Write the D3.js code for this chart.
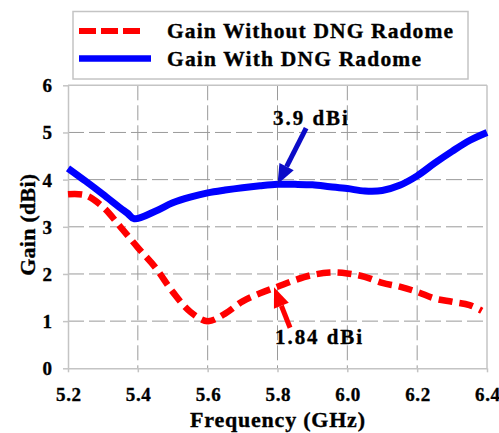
<!DOCTYPE html>
<html>
<head>
<meta charset="utf-8">
<script src="https://cdn.jsdelivr.net/npm/d3@7/dist/d3.min.js"></script>
<style>
  html, body { margin: 0; padding: 0; background: #fff; }
  svg { display: block; }
  text { font-family: "Liberation Serif", "Times New Roman", serif; font-weight: bold; fill: #000; stroke: #000; stroke-width: 0.35px; }
</style>
</head>
<body>
<svg id="chart" width="499" height="433"></svg>
<script>
// ---- data ----
const freqWith = [5.2, 5.25, 5.3, 5.35, 5.37, 5.39, 5.45, 5.5, 5.55, 5.6, 5.65, 5.7, 5.75, 5.8, 5.85, 5.9, 5.95, 6.0, 6.05, 6.1, 6.15, 6.2, 6.25, 6.3, 6.35, 6.4];
const gainWith = [4.24, 3.97, 3.69, 3.40, 3.29, 3.17, 3.33, 3.51, 3.63, 3.72, 3.78, 3.83, 3.87, 3.9, 3.9, 3.89, 3.85, 3.81, 3.76, 3.77, 3.88, 4.08, 4.35, 4.6, 4.83, 5.0];
const freqWithout = [5.2, 5.25, 5.3, 5.35, 5.4, 5.45, 5.5, 5.55, 5.6, 5.65, 5.7, 5.75, 5.8, 5.85, 5.9, 5.95, 6.0, 6.05, 6.1, 6.15, 6.2, 6.25, 6.3, 6.35, 6.385];
const gainWithout = [3.69, 3.67, 3.42, 3.0, 2.56, 2.14, 1.62, 1.2, 1.0, 1.16, 1.42, 1.59, 1.73, 1.87, 1.98, 2.03, 2.01, 1.94, 1.81, 1.73, 1.62, 1.48, 1.41, 1.34, 1.22];
const xTicks = [5.2, 5.4, 5.6, 5.8, 6.0, 6.2, 6.4];
const xTickLabels = ["5.2", "5.4", "5.6", "5.8", "6.0", "6.2", "6.4"];
const yTicks = [0, 1, 2, 3, 4, 5, 6];
const seriesNames = ["Gain Without DNG Radome", "Gain With DNG Radome"];
// annotations: label, text position (freq, gain), arrow tail, arrow tip
const annLabels = ["3.9 dBi", "1.84 dBi"];
const annTextPos = [[5.787, 5.15], [5.793, 0.51]];
const annTail = [[5.882, 5.09], [5.836, 0.86]];
const annTip = [[5.8, 3.9], [5.79, 1.72]];

// ---- layout ----
const svg = d3.select("#chart");
const L = 68, R = 487, T = 85.3, B = 368.3;
const x = d3.scaleLinear().domain([5.2, 6.4]).range([L, R]);
const y = d3.scaleLinear().domain([0, 6]).range([B, T]);

const frameColor = "#c4c4c4";
const gridColor = "#9a9a9a";

// gridlines
svg.append("g").selectAll("line").data(yTicks.filter(v => v > 0 && v < 6)).join("line")
  .attr("x1", L).attr("x2", R).attr("y1", d => y(d)).attr("y2", d => y(d))
  .attr("stroke", gridColor).attr("stroke-width", 1).attr("stroke-dasharray", "16,5");
svg.append("g").selectAll("line").data(xTicks.filter(v => v > 5.2 && v < 6.4)).join("line")
  .attr("x1", d => x(d)).attr("x2", d => x(d)).attr("y1", T).attr("y2", B)
  .attr("stroke", gridColor).attr("stroke-width", 1).attr("stroke-dasharray", "15,5");

// axes
const yAxis = d3.axisLeft(y).tickValues(yTicks).tickSize(5).tickSizeOuter(0).tickFormat(d3.format("d")).tickPadding(11);
const gy = svg.append("g").attr("transform", `translate(${L},0)`).call(yAxis);
gy.select(".domain").attr("stroke", frameColor).attr("stroke-width", 1.5);
gy.selectAll(".tick line").attr("stroke", frameColor).attr("stroke-width", 1.5);
gy.selectAll(".tick text").attr("font-size", 19).attr("font-family", null).attr("fill", "#000").attr("dy", "0.34em");

const xAxis = d3.axisBottom(x).tickValues(xTicks).tickSize(4).tickSizeOuter(0).tickFormat((d, i) => xTickLabels[i]).tickPadding(16);
const gx = svg.append("g").attr("transform", `translate(0,${B})`).call(xAxis);
gx.select(".domain").attr("stroke", frameColor).attr("stroke-width", 1.5);
gx.selectAll(".tick line").attr("stroke", frameColor).attr("stroke-width", 1.5);
gx.selectAll(".tick text").attr("font-size", 19).attr("font-family", null).attr("fill", "#000")
  .attr("dy", "0.68em").attr("textLength", 25).attr("lengthAdjust", "spacing");

// top & right frame
svg.append("line").attr("x1", L).attr("x2", R).attr("y1", T).attr("y2", T).attr("stroke", frameColor).attr("stroke-width", 1.5);
svg.append("line").attr("x1", R).attr("x2", R).attr("y1", T).attr("y2", B).attr("stroke", frameColor).attr("stroke-width", 1.5);

// series
const line = d3.line().x(d => x(d[0])).y(d => y(d[1])).curve(d3.curveCatmullRom.alpha(0.5));
svg.append("path").datum(freqWithout.map((f, i) => [f, gainWithout[i]]))
  .attr("d", line).attr("fill", "none").attr("stroke", "#ff0000").attr("stroke-width", 6.5)
  .attr("stroke-dasharray", "14,7");
svg.append("path").datum(freqWith.map((f, i) => [f, gainWith[i]]))
  .attr("d", line).attr("fill", "none").attr("stroke", "#0000ff").attr("stroke-width", 7)
  .attr("stroke-linejoin", "round");

// annotations
const annColors = ["#0c0cc8", "#ff0000"];
annLabels.forEach((lab, i) => {
  const x0 = x(annTail[i][0]), y0 = y(annTail[i][1]);
  const x1 = x(annTip[i][0]), y1 = y(annTip[i][1]);
  const ang = Math.atan2(y1 - y0, x1 - x0);
  const headLen = 20, headW = 8;
  const bx = x1 - headLen * Math.cos(ang), by = y1 - headLen * Math.sin(ang);
  svg.append("line").attr("x1", x0).attr("y1", y0).attr("x2", bx).attr("y2", by)
    .attr("stroke", annColors[i]).attr("stroke-width", 5);
  const px = -Math.sin(ang), py = Math.cos(ang);
  svg.append("path")
    .attr("d", `M${x1},${y1}L${bx + px * headW},${by + py * headW}L${bx - px * headW},${by - py * headW}Z`)
    .attr("fill", annColors[i]);
  svg.append("text").attr("x", x(annTextPos[i][0])).attr("y", y(annTextPos[i][1]))
    .attr("font-size", 21).attr("textLength", i === 0 ? 75 : 87).attr("lengthAdjust", "spacing").text(lab);
});

// axis titles
svg.append("text").attr("transform", `translate(34.5,${(T + B) / 2 - 2}) rotate(-90)`)
  .attr("text-anchor", "middle").attr("font-size", 22).attr("textLength", 102).attr("lengthAdjust", "spacing")
  .text("Gain (dBi)");
svg.append("text").attr("x", 277.5).attr("y", 426.7).attr("text-anchor", "middle")
  .attr("font-size", 22).attr("textLength", 175).attr("lengthAdjust", "spacing").text("Frequency (GHz)");

// legend
const lg = svg.append("g");
lg.append("rect").attr("x", 73).attr("y", 11.5).attr("width", 395).attr("height", 67.5)
  .attr("fill", "#fff").attr("stroke", frameColor).attr("stroke-width", 1.5);
lg.append("line").attr("x1", 79).attr("x2", 140).attr("y1", 31).attr("y2", 31)
  .attr("stroke", "#ff0000").attr("stroke-width", 6).attr("stroke-dasharray", "17,5");
lg.append("line").attr("x1", 79).attr("x2", 151).attr("y1", 58.5).attr("y2", 58.5)
  .attr("stroke", "#0000ff").attr("stroke-width", 6.5);
const legLens = [286, 254];
const legY = [38.3, 65.8];
seriesNames.forEach((n, i) => {
  lg.append("text").attr("x", 167).attr("y", legY[i]).attr("font-size", 21.5)
    .attr("textLength", legLens[i]).attr("lengthAdjust", "spacing").text(n);
});
</script>
</body>
</html>
